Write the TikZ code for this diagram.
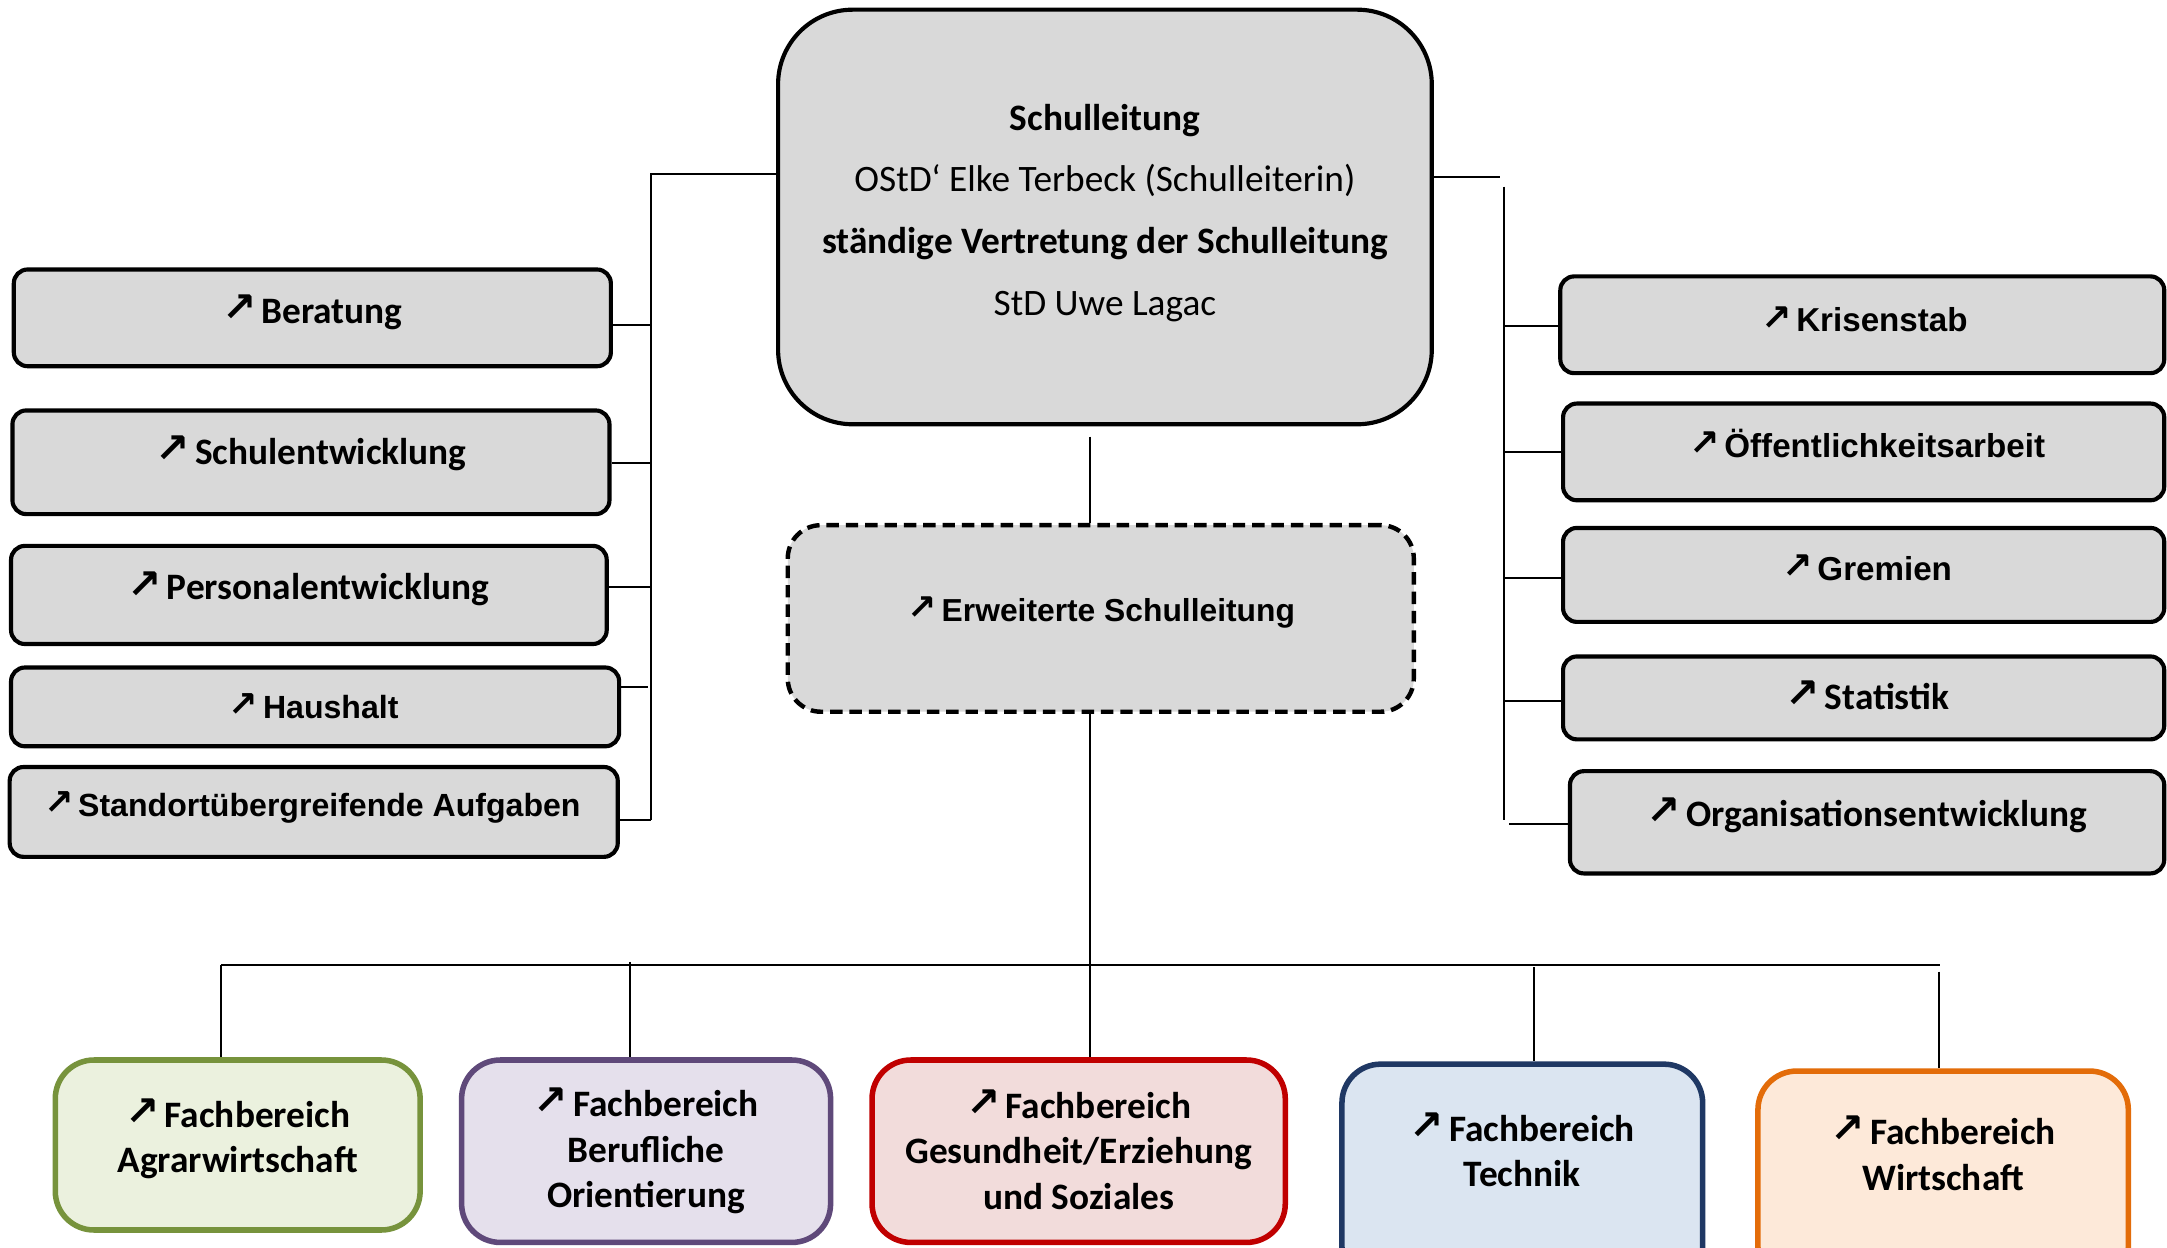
\documentclass[tikz,border=0pt]{standalone}
\usepackage{fontspec}
\setmainfont{Carlito}
\newfontfamily\calf{Carlito}
\newfontfamily\arif{Liberation Sans}
\newfontfamily\symf{DejaVu Sans}
\newcommand{\myarr}{\raisebox{0.1ex}{\scalebox{1.1}{\symf\char"2197}}\hspace{0.14em}}
\definecolor{boxgray}{HTML}{D9D9D9}
\definecolor{agrline}{HTML}{77933C}\definecolor{agrfill}{HTML}{EBF1DE}
\definecolor{berline}{HTML}{5F497A}\definecolor{berfill}{HTML}{E5E0EC}
\definecolor{gesline}{HTML}{C00000}\definecolor{gesfill}{HTML}{F2DCDB}
\definecolor{tecline}{HTML}{1F3864}\definecolor{tecfill}{HTML}{DBE5F1}
\definecolor{wirline}{HTML}{E36C09}\definecolor{wirfill}{HTML}{FDE9D9}
\tikzset{
  gbox/.style={draw=black, line width=1.5pt, fill=boxgray, rounded corners=5pt, inner sep=0pt},
  dbox/.style={draw=black, line width=1.6pt, fill=boxgray, rounded corners=12pt, inner sep=0pt, dash pattern=on 4.5pt off 2.5pt},
  fbox/.style={line width=2pt, rounded corners=14pt, inner sep=0pt},
  ctxt/.style={font=\calf\bfseries\fontsize{13.5}{16.5}\selectfont, inner sep=0pt, align=center},
  atxt/.style={font=\arif\bfseries\fontsize{11.6}{14}\selectfont, inner sep=0pt, align=center},
  btxt/.style={font=\arif\bfseries\fontsize{12}{14}\selectfont, inner sep=0pt, align=center},
  conn/.style={line width=0.7pt, draw=black},
}
\begin{document}
\begin{tikzpicture}[x=0.5pt,y=-0.5pt]
\fill[white] (0,0) rectangle (1568,903);
\useasboundingbox (0,0) rectangle (1568,903);

% Schulleitung
\node[gbox, rounded corners=27pt, minimum width=236.5pt, minimum height=150pt] (sl) at (799.5,157) {};
\node[font=\calf\fontsize{13.5}{22.35}\selectfont, inner sep=0pt, align=center] (slt) at (799.5,154)
  {{\bfseries Schulleitung}\\OStD‘ Elke Terbeck (Schulleiterin)\\{\bfseries ständige Vertretung der Schulleitung}\\StD Uwe Lagac};

% Erweiterte Schulleitung
\node[dbox, minimum width=226.5pt, minimum height=67.5pt] (esl) at (796.5,447.5) {};
\node[font=\arif\bfseries\fontsize{11.5}{14}\selectfont, inner sep=0pt] (eslt) at (797,443) {\myarr Erweiterte Schulleitung};

% left boxes
\node[gbox, minimum width=216pt, minimum height=35pt] (ber) at (226,230) {};
\node[ctxt] (bert) at (226,226) {\myarr Beratung};
\node[gbox, minimum width=216pt, minimum height=37.5pt] (sch) at (225,334.5) {};
\node[ctxt] (scht) at (225,328) {\myarr Schulentwicklung};
\node[gbox, minimum width=215.5pt, minimum height=35.5pt] (per) at (223.5,430.5) {};
\node[ctxt] (pert) at (223,426) {\myarr Personalentwicklung};
\node[gbox, minimum width=220pt, minimum height=28.5pt] (hau) at (228,511.5) {};
\node[atxt] (haut) at (227,511) {\myarr Haushalt};
\node[gbox, minimum width=220pt, minimum height=32.5pt] (sta) at (227,587.5) {};
\node[atxt] (stat) at (226,584) {\myarr Standortübergreifende Aufgaben};

% right boxes
\node[gbox, minimum width=218.5pt, minimum height=35pt] (kri) at (1347.5,235) {};
\node[btxt] (krit) at (1349,231) {\myarr Krisenstab};
\node[gbox, minimum width=217.5pt, minimum height=35pt] (oef) at (1348.5,327) {};
\node[btxt] (oeft) at (1351,321) {\myarr Öffentlichkeitsarbeit};
\node[gbox, minimum width=217.5pt, minimum height=34pt] (gre) at (1348.5,416) {};
\node[btxt] (gret) at (1351,411) {\myarr Gremien};
\node[gbox, minimum width=217.5pt, minimum height=30pt] (sts) at (1348.5,505) {};
\node[ctxt] (stst) at (1351,503) {\myarr Statistik};
\node[gbox, minimum width=215pt, minimum height=37pt] (org) at (1351,595) {};
\node[ctxt] (orgt) at (1351,590) {\myarr Organisationsentwicklung};

% Fachbereiche
\node[fbox, draw=agrline, fill=agrfill, minimum width=132pt, minimum height=61.5pt] (agr) at (172,828.5) {};
\node[ctxt] (agrt) at (172,824) {\myarr Fachbereich\\Agrarwirtschaft};
\node[fbox, draw=berline, fill=berfill, minimum width=133.5pt, minimum height=66pt] (bor) at (467.5,833) {};
\node[ctxt] (bort) at (467.5,833) {\myarr Fachbereich\\Berufliche\\Orientierung};
\node[fbox, draw=gesline, fill=gesfill, minimum width=149.5pt, minimum height=66pt] (ges) at (780.5,833) {};
\node[ctxt] (gest) at (780.5,832) {\myarr Fachbereich\\Gesundheit/Erziehung\\und Soziales};
\node[fbox, draw=tecline, fill=tecfill, minimum width=130.5pt, minimum height=80pt] (tec) at (1101.5,850) {};
\node[ctxt] (tect) at (1101.5,832) {\myarr Fachbereich\\Technik};
\node[fbox, draw=wirline, fill=wirfill, minimum width=134pt, minimum height=77.5pt] (wir) at (1406,852.5) {};
\node[ctxt] (wirt) at (1406,834.5) {\myarr Fachbereich\\Wirtschaft};

% left connectors
\coordinate (lt) at (471,126);
\coordinate (lb) at (471,593);
\draw[conn] (lt -| sl.west) -- (lt) -- (lb);
\coordinate (l1) at (471,235); \draw[conn] (l1 -| ber.east) -- (l1);
\coordinate (l2) at (471,335); \draw[conn] (l2 -| sch.east) -- (l2);
\coordinate (l3) at (471,425); \draw[conn] (l3 -| per.east) -- (l3);
\coordinate (l4) at (469,497); \draw[conn] (l4 -| hau.east) -- (l4);
\coordinate (l5) at (471,593); \draw[conn] (l5 -| sta.east) -- (l5);

% right connectors
\coordinate (rt) at (1085,128);
\draw[conn] (rt -| sl.east) -- (rt);
\coordinate (rb1) at (1088,135);
\coordinate (rb2) at (1088,593);
\draw[conn] (rb1) -- (rb2);
\coordinate (r1) at (1088,236); \draw[conn] (r1) -- (r1 -| kri.west);
\coordinate (r2) at (1088,327); \draw[conn] (r2) -- (r2 -| oef.west);
\coordinate (r3) at (1088,418); \draw[conn] (r3) -- (r3 -| gre.west);
\coordinate (r4) at (1088,507); \draw[conn] (r4) -- (r4 -| sts.west);
\coordinate (r5) at (1092,596); \draw[conn] (r5) -- (r5 -| org.west);

% centre connectors
\coordinate (c0) at (789,316);
\draw[conn] (c0) -- (c0 |- esl.north);
\coordinate (hb) at (789,698);
\draw[conn] (hb |- esl.south) -- (hb |- ges.north);
\coordinate (hl) at (160,698);
\coordinate (hr) at (1404,698);
\draw[conn] (hl) -- (hr);
\draw[conn] (hl) -- (hl |- agr.north);
\coordinate (d2) at (456,696); \draw[conn] (d2) -- (d2 |- bor.north);
\coordinate (d4) at (1110,700); \draw[conn] (d4) -- (d4 |- tec.north);
\coordinate (d5) at (1403,703); \draw[conn] (d5) -- (d5 |- wir.north);
\end{tikzpicture}
\end{document}
